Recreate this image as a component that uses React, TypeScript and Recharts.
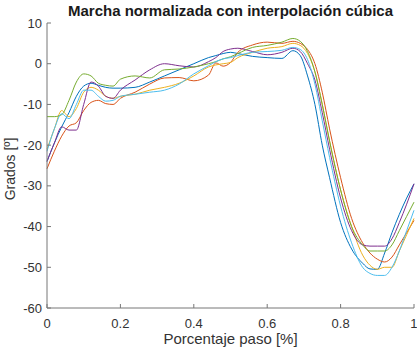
import React from 'react';
import { LineChart, Line, XAxis, YAxis } from 'recharts';

// Porcentaje paso (x positions)
const pasoX = [0, 0.02, 0.04, 0.06, 0.08, 0.1, 0.12, 0.14, 0.16, 0.18, 0.2, 0.24, 0.28, 0.32, 0.36, 0.4, 0.44, 0.46, 0.48, 0.5, 0.52, 0.56, 0.6, 0.64, 0.67, 0.69, 0.71, 0.73, 0.75, 0.77, 0.8, 0.83, 0.86, 0.88, 0.9, 0.92, 0.94, 0.96, 0.98, 1];

const serie1 = [-24, -19.5, -15.5, -12, -8, -5.5, -4.8, -5.3, -5.8, -6, -6, -5.8, -4.5, -3, -1.5, 0, 1.5, 2, 2.5, 2.8, 2.5, 1.8, 1.5, 1.3, 3.2, 2, -3, -10, -20, -28, -39, -45.5, -49, -50.4, -50.5, -46.5, -41.5, -37, -33, -29.5];
const serie2 = [-25.8, -21.5, -17.8, -15.3, -14.5, -11.5, -9.5, -9, -9.8, -10, -8.5, -7, -5, -3.5, -3.4, -4.2, -2.8, 0.2, -0.6, 0.3, 2.8, 4.6, 5.3, 5, 5.5, 5, 3.5, 0, -7, -16, -28, -38, -44, -46.5, -48, -48.7, -47.5, -44.5, -41.5, -38.5];
const serie3 = [-21, -16, -11.5, -13, -11, -7, -5.8, -6.5, -8, -8.5, -8, -7.5, -6.5, -5.8, -4.8, -3, -0.8, -0.3, 0, 0.3, 1.5, 2.8, 3.8, 4.2, 5, 4.5, 2.5, -2, -10, -19, -31, -40, -47, -49.5, -50.5, -50, -50, -46, -42, -38];
const serie4 = [-24, -19.5, -15.5, -16.3, -16.3, -10, -4.5, -5.5, -8, -8.5, -6.5, -4, -1.5, 0, -0.5, -0.8, 0.5, 1.5, 3, 3.6, 3.8, 3, 2.2, 2.8, 3.8, 3, 0, -4, -12, -21, -33, -41, -44.5, -44.8, -44.8, -44.8, -43, -39, -34.5, -29.5];
const serie5 = [-13, -13, -12.5, -9, -4.5, -2.5, -3, -4.8, -5.3, -5.5, -3.8, -3, -3.5, -1.5, -1.3, -0.8, 0, 0.5, 1.2, 1.7, 2.5, 4, 4.5, 5.3, 6.2, 5.5, 3, -2, -10, -19, -31, -40, -44.5, -46, -46, -46, -44.5, -41, -37.5, -34];
const serie6 = [-21.5, -16, -12.3, -13.5, -10, -6.5, -6.5, -8, -9.2, -9, -8, -7.5, -7, -6.5, -5, -2.5, -0.5, 0.5, 1.2, 1.5, 2, 2.8, 3, 3.3, 4, 3.5, 1, -5, -14, -23, -35, -44, -50, -51.5, -52, -52, -50, -46, -41, -36];

const xTicks = [0, 0.2, 0.4, 0.6, 0.8, 1];
const yTicks = [-60, -50, -40, -30, -20, -10, 0, 10];

const titulo = 'Marcha normalizada con interpolación cúbica';
const etiquetaX = 'Porcentaje paso [%]';
const etiquetaY = 'Grados [º]';

const series = [
  { key: 's1', values: serie1, color: '#0072BD' },
  { key: 's2', values: serie2, color: '#D95319' },
  { key: 's3', values: serie3, color: '#EDB120' },
  { key: 's4', values: serie4, color: '#7E2F8E' },
  { key: 's5', values: serie5, color: '#77AC30' },
  { key: 's6', values: serie6, color: '#4DBEEE' },
];

const rows = pasoX.map((x, i) => {
  const r: Record<string, number> = { x };
  series.forEach((s) => {
    r[s.key] = s.values[i];
  });
  return r;
});

const FONT = '"Liberation Sans", Arial, Helvetica, sans-serif';
const AXIS = '#777777';
const TEXT = '#333333';

const fmtX = (v: number) => String(v);

export default function App() {
  return (
    <div style={{ position: 'absolute', left: 0, top: 0, width: 417, height: 348, background: '#fff', fontFamily: FONT }}>
      <LineChart width={417} height={348} data={rows} margin={{ top: 23, right: 3, bottom: 0, left: 0 }}>
        <XAxis
          dataKey="x"
          type="number"
          domain={[0, 1]}
          ticks={xTicks}
          tickFormatter={fmtX}
          height={40}
          tickSize={-4}
          tickMargin={15}
          stroke={AXIS}
          tick={{ fill: TEXT, fontSize: 13, fontFamily: FONT }}
        />
        <XAxis
          xAxisId="top"
          orientation="top"
          dataKey="x"
          type="number"
          domain={[0, 1]}
          ticks={xTicks}
          tickFormatter={() => ''}
          height={0}
          tickSize={-4}
          stroke={AXIS}
        />
        <YAxis
          type="number"
          domain={[-60, 10]}
          ticks={yTicks}
          width={47}
          tickSize={-4}
          tickMargin={9}
          stroke={AXIS}
          tick={{ fill: TEXT, fontSize: 13, fontFamily: FONT }}
        />
        <YAxis
          yAxisId="right"
          orientation="right"
          type="number"
          domain={[-60, 10]}
          ticks={yTicks}
          width={0}
          tickSize={-4}
          tickFormatter={() => ''}
          stroke={AXIS}
        />
        {series.map((s) => (
          <Line
            key={s.key}
            dataKey={s.key}
            type="monotone"
            stroke={s.color}
            strokeWidth={1}
            dot={false}
            activeDot={false}
            isAnimationActive={false}
          />
        ))}
      </LineChart>
      <svg width={417} height={348} style={{ position: 'absolute', left: 0, top: 0, pointerEvents: 'none' }}>
        <text x={230.5} y={16} textAnchor="middle" fontFamily={FONT} fontSize={15} fontWeight="bold" fill="#1a1a1a">
          {titulo}
        </text>
        <text x={230.5} y={344} textAnchor="middle" fontFamily={FONT} fontSize={15} fill={TEXT}>
          {etiquetaX}
        </text>
        <text x={15} y={169} textAnchor="middle" fontFamily={FONT} fontSize={14} fill={TEXT} transform="rotate(-90 15 169)">
          {etiquetaY}
        </text>
      </svg>
    </div>
  );
}
